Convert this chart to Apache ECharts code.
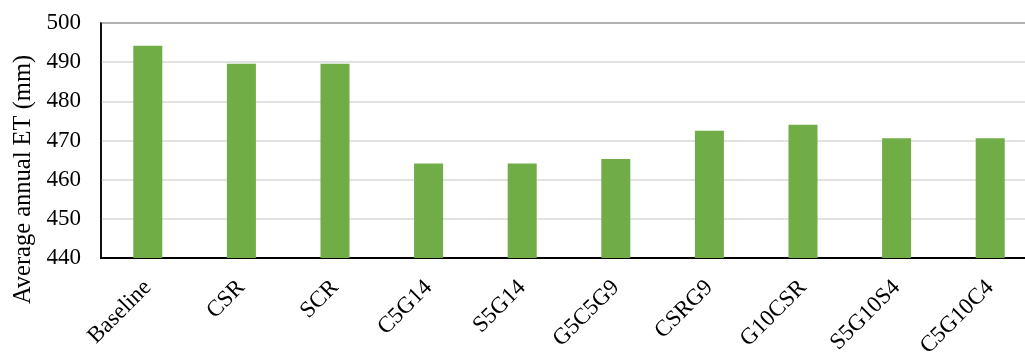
<!DOCTYPE html>
<html>
<head>
<meta charset="utf-8">
<script src="https://cdn.jsdelivr.net/npm/echarts@6/dist/echarts.min.js"></script>
<style>
  html, body { margin: 0; padding: 0; background: #fff; }
  #chart { width: 1025px; height: 353px; }
</style>
</head>
<body>
<div id="chart"></div>
<script>
// Scenario names along the x axis
const scenarios = ['Baseline', 'CSR', 'SCR', 'C5G14', 'S5G14', 'G5C5G9', 'CSRG9', 'G10CSR', 'S5G10S4', 'C5G10C4'];
// Average annual evapotranspiration per scenario (mm)
const annualET = [494.2, 489.6, 489.6, 464.1, 464.1, 465.3, 472.5, 474.0, 470.6, 470.6];
// Value axis range
const yMin = 440;
const yMax = 500;
const yStep = 10;
const yTitle = 'Average annual ET (mm)';

const font = '"Liberation Serif", "Times New Roman", serif';

const chart = echarts.init(document.getElementById('chart'), null, { renderer: 'canvas' });
chart.setOption({
  animation: false,
  backgroundColor: '#ffffff',
  grid: {
    left: 101,
    top: 23,
    bottom: 95,
    width: 936,
    containLabel: false,
    outerBoundsMode: 'none',
    show: true,
    borderColor: '#000000',
    borderWidth: 1.5,
    backgroundColor: 'transparent'
  },
  xAxis: {
    type: 'category',
    data: scenarios,
    axisLine: { show: true, lineStyle: { color: '#000000', width: 2 } },
    axisTick: { show: false },
    axisLabel: {
      interval: 0,
      rotate: 45,
      margin: 26,
      color: '#000000',
      fontFamily: font,
      fontSize: 23
    }
  },
  yAxis: {
    type: 'value',
    min: yMin,
    max: yMax,
    interval: yStep,
    name: yTitle,
    nameLocation: 'middle',
    nameGap: 62,
    nameTextStyle: {
      color: '#000000',
      fontFamily: font,
      fontSize: 24.5,
      padding: [0, 78, 0, 0]
    },
    axisLine: { show: true, lineStyle: { color: '#000000', width: 1.5 } },
    axisTick: { show: false },
    axisLabel: {
      margin: 20,
      color: '#000000',
      fontFamily: font,
      fontSize: 23
    },
    splitLine: { show: true, lineStyle: { color: '#d9d9d9', width: 1.5 } }
  },
  series: [{
    type: 'bar',
    data: annualET,
    barWidth: '31%',
    itemStyle: { color: '#70ad47' }
  }]
});
</script>
</body>
</html>
